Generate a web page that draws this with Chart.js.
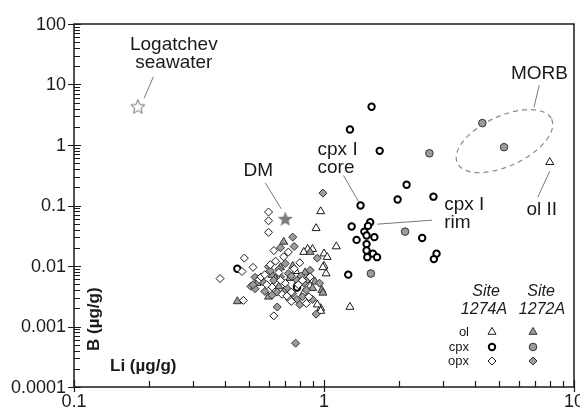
<!DOCTYPE html>
<html>
<head>
<meta charset="utf-8">
<title>Li vs B</title>
<script src="https://cdn.jsdelivr.net/npm/chart.js@4.4.1/dist/chart.umd.min.js"></script>
<style>
  html, body { margin: 0; padding: 0; background: #fff; }
  #wrap { width: 580px; height: 410px; }
</style>
</head>
<body>
<div id="wrap"><canvas id="chart" width="580" height="410"></canvas></div>
<script>
// Li (x) vs B (y), µg/g, olivine / cpx / opx from Sites 1274A and 1272A

const olSite1274A = [
    [0.97, 0.08], [0.93, 0.042], [1.12, 0.021], [0.86, 0.019], [1.0, 0.016], [1.03, 0.014],
    [1.0, 0.01], [1.02, 0.0075], [0.97, 0.002], [1.27, 0.0021], [8.0, 0.52], [0.83, 0.017],
    [0.83, 0.0036], [0.94, 0.0023], [0.97, 0.0018], [0.99, 0.0095], [0.90, 0.019],
    [0.77, 0.0082], [0.88, 0.0047]
];
const olSite1272A = [
    [0.88, 0.017], [0.75, 0.01], [0.67, 0.0095], [0.54, 0.0052], [0.66, 0.0046], [0.60, 0.0031],
    [0.45, 0.0026], [0.92, 0.0055], [0.90, 0.0043], [0.98, 0.004], [0.69, 0.025], [0.99, 0.0036],
    [0.73, 0.0063], [0.84, 0.0078], [0.62, 0.0071], [0.78, 0.0052], [0.64, 0.0062]
];
const cpxSite1274A = [
    [1.55, 4.3], [1.27, 1.8], [1.67, 0.8], [2.14, 0.22], [1.97, 0.126], [2.74, 0.14], [1.4, 0.10],
    [1.29, 0.045], [1.53, 0.053], [1.50, 0.046], [1.45, 0.037], [1.48, 0.032], [1.59, 0.03],
    [1.35, 0.027], [1.48, 0.023], [1.48, 0.018], [1.49, 0.014], [1.57, 0.016], [1.63, 0.014],
    [1.25, 0.0072], [2.47, 0.029], [2.82, 0.016], [2.75, 0.013], [0.45, 0.009], [0.78, 0.0044]
];
const cpxSite1272A = [
    [4.3, 2.3], [5.25, 0.92], [2.64, 0.73], [2.11, 0.037], [1.54, 0.0075]
];
const opxSite1274A = [
    [0.60, 0.078], [0.60, 0.056], [0.60, 0.036], [0.48, 0.0135], [0.47, 0.0081], [0.384, 0.0062],
    [0.476, 0.0027], [0.63, 0.0015], [0.63, 0.018], [0.72, 0.017], [0.69, 0.0142], [0.64, 0.012],
    [0.80, 0.0113], [0.55, 0.006], [0.56, 0.0066], [0.70, 0.0052], [0.88, 0.0066], [0.74, 0.0037],
    [0.73, 0.0028], [0.87, 0.0031], [0.85, 0.0024], [0.74, 0.0026], [0.58, 0.0072], [0.66, 0.0078],
    [0.76, 0.009], [0.62, 0.0045], [0.52, 0.0095], [0.68, 0.0034], [0.82, 0.0058],
    [0.61, 0.0105], [0.67, 0.0058], [0.79, 0.0049], [0.71, 0.0032], [0.59, 0.0049]
];
const opxSite1272A = [
    [0.99, 0.16], [0.75, 0.03], [0.67, 0.02], [0.76, 0.021], [0.94, 0.0135], [0.60, 0.0097],
    [0.61, 0.0083], [0.53, 0.0065], [0.51, 0.0046], [0.53, 0.0042], [0.67, 0.0066], [0.78, 0.0058],
    [0.83, 0.0052], [0.85, 0.004], [0.78, 0.0028], [0.80, 0.0023], [0.96, 0.0052], [0.90, 0.0028],
    [0.93, 0.0016], [0.65, 0.0021], [0.65, 0.0037], [0.71, 0.0043], [0.75, 0.0035], [0.77, 0.00053],
    [0.52, 0.0049], [0.69, 0.0037], [0.57, 0.0055], [0.63, 0.0058], [0.72, 0.0075], [0.88, 0.0085],
    [0.58, 0.0038], [0.70, 0.011], [0.81, 0.0068], [0.66, 0.0088], [0.74, 0.0068], [0.86, 0.006],
    [0.62, 0.0033], [0.82, 0.0031]
];
const seawater = [[0.18, 4.3]];
const depletedMantle = [[0.70, 0.06]];

const xTickValues = [0.1, 1, 10];
const xTickLabels = ['0.1', '1', '10'];
const yTickValues = [100, 10, 1, 0.1, 0.01, 0.001, 0.0001];
const yTickLabels = ['100', '10', '1', '0.1', '0.01', '0.001', '0.0001'];

const GREY = '#9c9c9c';
const INK = '#1a1a1a';
const FONT = '"Liberation Sans", Arial, sans-serif';

function pts(arr) {
    return arr.map(([x, y]) => ({ x, y }));
}

// five-pointed star sprites (Chart.js 'star' is an asterisk)
function makeStar(size, outer, inner, fill, stroke) {
    const c = document.createElement('canvas');
    c.width = size; c.height = size;
    const g = c.getContext('2d');
    const cx = size / 2, cy = size / 2 + 0.5;
    g.beginPath();
    for (let i = 0; i < 10; i++) {
        const r = i % 2 === 0 ? outer : inner;
        const a = -Math.PI / 2 + i * Math.PI / 5;
        const px = cx + r * Math.cos(a), py = cy + r * Math.sin(a);
        if (i === 0) g.moveTo(px, py); else g.lineTo(px, py);
    }
    g.closePath();
    g.fillStyle = fill;
    g.fill();
    if (stroke) {
        g.strokeStyle = stroke;
        g.lineWidth = 1;
        g.stroke();
    }
    return c;
}

const openStar = makeStar(18, 7.5, 3.3, '#fff', '#707070');
const greyStar = makeStar(18, 8, 3.5, '#7c7c7c', null);

// marker styles shared by datasets and the key
const styles = {
    ol1274: { pointStyle: 'triangle', radius: 4.6, bg: '#fff', border: INK, bw: 1 },
    ol1272: { pointStyle: 'triangle', radius: 4.6, bg: GREY, border: '#333', bw: 1 },
    cpx1274: { pointStyle: 'circle', radius: 3.2, bg: '#fff', border: '#000', bw: 2 },
    cpx1272: { pointStyle: 'circle', radius: 3.8, bg: GREY, border: '#333', bw: 1 },
    opx1274: { pointStyle: 'rectRot', radius: 4, bg: '#fff', border: INK, bw: 1 },
    opx1272: { pointStyle: 'rectRot', radius: 4, bg: GREY, border: '#333', bw: 1 }
};

function dataset(label, arr, s) {
    return {
        label: label,
        data: pts(arr),
        pointStyle: s.pointStyle,
        pointRadius: s.radius,
        backgroundColor: s.bg,
        borderColor: s.border,
        borderWidth: s.bw
    };
}

// text callouts: anchored on a data value, offsets in px
const notes = [
    { at: [0.18, 4.3], lines: ['Logatchev', 'seawater'], text: [36, -57], align: 'center', leader: [[15.6, -30], [6.3, -8.4]] },
    { at: [0.70, 0.06], lines: ['DM'], text: [-27, -43], align: 'center', leader: [[-20, -36], [-4, -10]] },
    { at: [1.4, 0.10], lines: ['cpx I', 'core'], text: [-43, -51], align: 'left', leader: [[-17, -30], [-2, -4]] },
    { at: [1.53, 0.053], lines: ['cpx I', 'rim'], text: [74, -12], align: 'left', leader: [[7, 2], [62, -2]] },
    { at: [5.27, 1.16], lines: ['MORB'], text: [35, -62], align: 'center', leader: [[34.8, -56], [29.5, -33.7]] },
    { at: [8.0, 0.52], lines: ['ol II'], text: [-8, 53], align: 'center', leader: [[0, 9], [-12, 35]] }
];
const morbField = { center: [5.27, 1.16], rx: 52, ry: 25, angle: -25 };

const decorPlugin = {
    id: 'decor',
    beforeDatasetsDraw(chart) {
        const ctx = chart.ctx;
        const xs = chart.scales.x, ys = chart.scales.y;
        ctx.save();
        // MORB field
        ctx.strokeStyle = '#8a8a8a';
        ctx.lineWidth = 1.2;
        ctx.setLineDash([5, 4]);
        ctx.beginPath();
        ctx.ellipse(xs.getPixelForValue(morbField.center[0]), ys.getPixelForValue(morbField.center[1]),
            morbField.rx, morbField.ry, morbField.angle * Math.PI / 180, 0, Math.PI * 2);
        ctx.stroke();
        ctx.setLineDash([]);

        // callouts
        ctx.strokeStyle = '#777';
        ctx.lineWidth = 1;
        ctx.fillStyle = INK;
        ctx.font = '19px ' + FONT;
        ctx.textBaseline = 'alphabetic';
        notes.forEach(n => {
            const px = xs.getPixelForValue(n.at[0]);
            const py = ys.getPixelForValue(n.at[1]);
            ctx.beginPath();
            ctx.moveTo(px + n.leader[0][0], py + n.leader[0][1]);
            ctx.lineTo(px + n.leader[1][0], py + n.leader[1][1]);
            ctx.stroke();
            ctx.textAlign = n.align;
            n.lines.forEach((t, i) => {
                ctx.fillText(t, px + n.text[0], py + n.text[1] + i * 18);
            });
        });
        ctx.restore();
    },
    afterDraw(chart) {
        const ctx = chart.ctx;
        const a = chart.chartArea;
        const xs = chart.scales.x, ys = chart.scales.y;
        ctx.save();

        // frame
        ctx.strokeStyle = INK;
        ctx.lineWidth = 1.5;
        ctx.strokeRect(a.left, a.top, a.right - a.left, a.bottom - a.top);

        // log ticks, pointing inward
        ctx.lineWidth = 1.2;
        ctx.beginPath();
        for (let e = Math.round(Math.log10(ys.min)); e < Math.round(Math.log10(ys.max)); e++) {
            for (let m = 2; m < 10; m++) {
                const y = Math.round(ys.getPixelForValue(m * Math.pow(10, e))) + 0.5;
                ctx.moveTo(a.left, y);
                ctx.lineTo(a.left + 6, y);
            }
        }
        yTickValues.forEach(v => {
            const y = Math.round(ys.getPixelForValue(v)) + 0.5;
            ctx.moveTo(a.left - 6, y);
            ctx.lineTo(a.left + 7, y);
        });
        for (let e = Math.round(Math.log10(xs.min)); e < Math.round(Math.log10(xs.max)); e++) {
            for (let m = 2; m < 10; m++) {
                const x = Math.round(xs.getPixelForValue(m * Math.pow(10, e))) + 0.5;
                ctx.moveTo(x, a.bottom);
                ctx.lineTo(x, a.bottom - 6);
            }
        }
        xTickValues.forEach(v => {
            const x = Math.round(xs.getPixelForValue(v)) + 0.5;
            ctx.moveTo(x, a.bottom + 5);
            ctx.lineTo(x, a.bottom - 7);
        });
        ctx.stroke();

        // tick labels
        ctx.fillStyle = INK;
        ctx.font = '18px ' + FONT;
        ctx.textAlign = 'right';
        ctx.textBaseline = 'middle';
        yTickValues.forEach((v, i) => {
            ctx.fillText(yTickLabels[i], a.left - 8, ys.getPixelForValue(v) + 1);
        });
        ctx.textAlign = 'center';
        ctx.textBaseline = 'top';
        xTickValues.forEach((v, i) => {
            ctx.fillText(xTickLabels[i], xs.getPixelForValue(v), a.bottom + 6);
        });

        // axis titles sit inside the plot, lower left
        ctx.font = 'bold 17px ' + FONT;
        ctx.textAlign = 'left';
        ctx.textBaseline = 'alphabetic';
        ctx.fillText('Li (µg/g)', 110, 371);
        ctx.save();
        ctx.translate(99, 351);
        ctx.rotate(-Math.PI / 2);
        ctx.fillText('B (µg/g)', 0, 0);
        ctx.restore();

        // key
        ctx.font = 'italic 16px ' + FONT;
        ctx.textAlign = 'center';
        ctx.fillText('Site', 486, 296);
        ctx.fillText('1274A', 484, 314);
        ctx.fillText('Site', 541, 296);
        ctx.fillText('1272A', 542, 314);

        const rows = [
            ['ol', 'ol1274', 'ol1272', 332],
            ['cpx', 'cpx1274', 'cpx1272', 347],
            ['opx', 'opx1274', 'opx1272', 361]
        ];
        ctx.font = '13px ' + FONT;
        ctx.textAlign = 'right';
        rows.forEach(([name, s1, s2, y]) => {
            ctx.fillStyle = INK;
            ctx.fillText(name, 469, y + 4);
            [[s1, 492], [s2, 533]].forEach(([key, x]) => {
                const s = styles[key];
                ctx.fillStyle = s.bg;
                ctx.strokeStyle = s.border;
                ctx.lineWidth = s.bw;
                Chart.helpers.drawPoint(ctx, {
                    pointStyle: s.pointStyle, radius: s.radius, rotation: 0, borderWidth: s.bw
                }, x, y);
            });
        });
        ctx.restore();
    }
};

new Chart(document.getElementById('chart'), {
    type: 'scatter',
    data: {
        datasets: [
            dataset('opx 1274A', opxSite1274A, styles.opx1274),
            dataset('opx 1272A', opxSite1272A, styles.opx1272),
            dataset('ol 1272A', olSite1272A, styles.ol1272),
            dataset('ol 1274A', olSite1274A, styles.ol1274),
            dataset('cpx 1272A', cpxSite1272A, styles.cpx1272),
            dataset('cpx 1274A', cpxSite1274A, styles.cpx1274),
            { label: 'Logatchev seawater', data: pts(seawater), pointStyle: openStar },
            { label: 'DM', data: pts(depletedMantle), pointStyle: greyStar }
        ]
    },
    options: {
        responsive: false,
        animation: false,
        layout: { padding: { left: 74, top: 24, right: 6, bottom: 23 } },
        scales: {
            x: { type: 'logarithmic', min: 0.1, max: 10, display: false },
            y: { type: 'logarithmic', min: 0.0001, max: 100, display: false }
        },
        plugins: {
            legend: { display: false },
            tooltip: { enabled: false }
        }
    },
    plugins: [decorPlugin]
});
</script>
</body>
</html>
